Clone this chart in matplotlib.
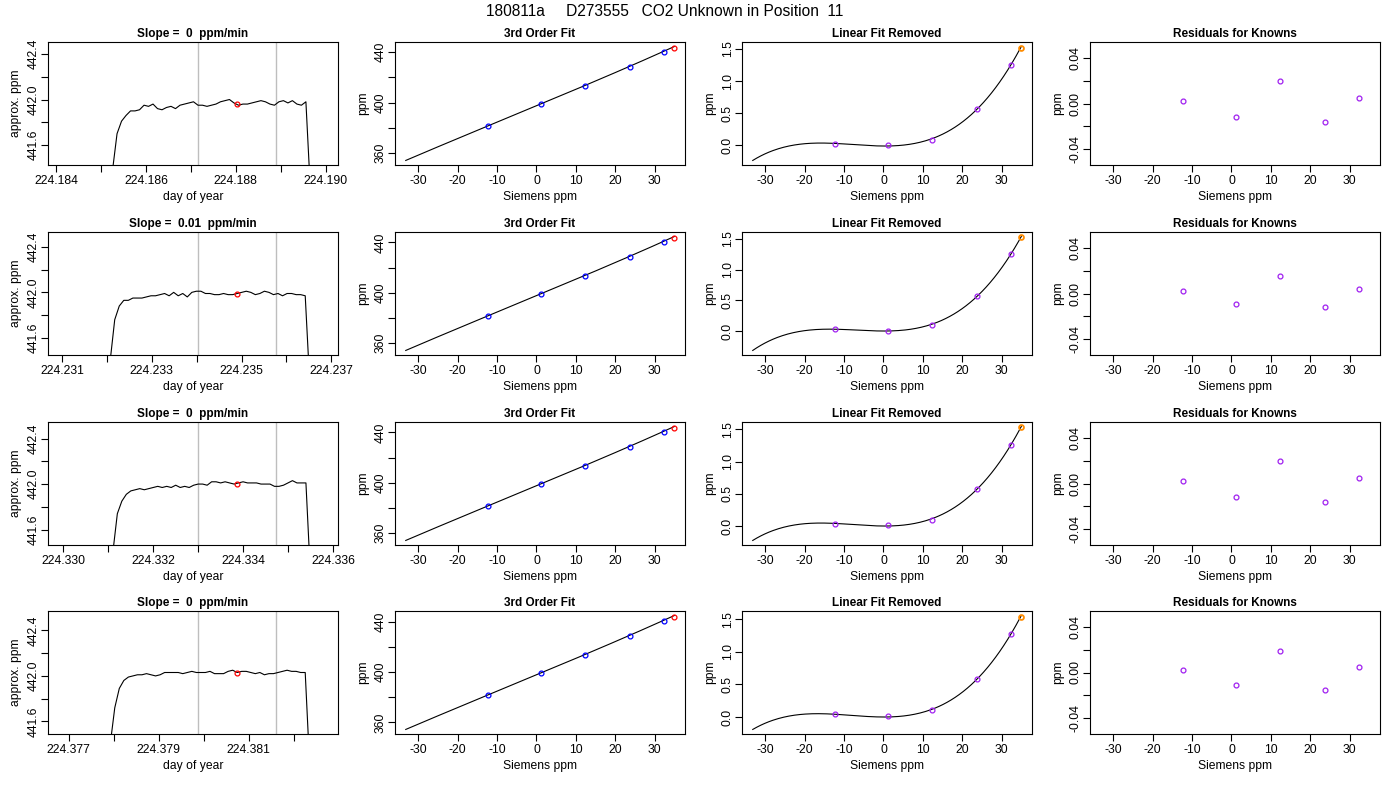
import numpy as np
import matplotlib
matplotlib.use('Agg')
import matplotlib.pyplot as plt

plt.rcParams['font.family'] = ['Liberation Sans', 'DejaVu Sans']
plt.rcParams['axes.unicode_minus'] = False

main_title = '180811a     D273555   CO2 Unknown in Position  11'
slopes = ['0', '0.01', '0', '0']

# analyser trace for each injection (day of year, approx. ppm)
trace_start = [224.185258, 224.232074, 224.331107, 224.377923]
trace_end = [224.18966, 224.236519, 224.335491, 224.382351]
trace_ppm = [
    [441.38, 441.70, 441.81, 441.86, 441.90, 441.90, 441.91, 441.95, 441.94, 441.96,
     441.92, 441.91, 441.93, 441.94, 441.92, 441.95, 441.96, 441.97, 441.98, 441.95,
     441.95, 441.94, 441.95, 441.96, 441.98, 441.99, 442.00, 441.97, 441.95, 441.96,
     441.96, 441.97, 441.98, 441.99, 441.98, 441.96, 441.95, 441.98, 441.99, 441.97,
     441.99, 441.96, 441.95, 441.98, 441.20],
    [441.40, 441.76, 441.88, 441.93, 441.93, 441.95, 441.95, 441.95, 441.96, 441.97,
     441.97, 441.98, 441.99, 441.97, 442.00, 441.97, 441.99, 441.96, 442.00, 442.01,
     442.01, 441.99, 441.99, 441.98, 441.98, 441.99, 441.98, 441.98, 441.99, 442.00,
     442.01, 442.00, 441.98, 441.99, 442.01, 442.00, 441.98, 441.99, 441.97, 441.99,
     441.99, 441.98, 441.98, 441.97, 441.20],
    [441.40, 441.74, 441.85, 441.91, 441.94, 441.95, 441.96, 441.95, 441.96, 441.97,
     441.98, 441.97, 441.98, 441.97, 441.99, 441.97, 441.98, 441.97, 441.99, 442.00,
     442.00, 441.99, 442.02, 442.02, 442.01, 442.02, 442.01, 442.00, 442.01, 442.02,
     442.01, 442.01, 442.01, 442.00, 442.00, 442.00, 441.98, 441.98, 441.99, 442.01,
     442.03, 442.01, 442.01, 442.01, 441.20],
    [441.40, 441.72, 441.89, 441.96, 441.99, 442.00, 442.01, 442.01, 442.02, 442.01,
     442.00, 442.01, 442.03, 442.03, 442.03, 442.03, 442.02, 442.03, 442.04, 442.03,
     442.03, 442.03, 442.04, 442.02, 442.02, 442.02, 442.04, 442.05, 442.03, 442.04,
     442.04, 442.03, 442.02, 442.03, 442.01, 442.02, 442.02, 442.03, 442.04, 442.05,
     442.04, 442.04, 442.03, 442.03, 441.20],
]
day_range = [(224.183822, 224.190274), (224.230689, 224.237148),
             (224.329668, 224.336103), (224.376542, 224.382978)]
avg_window = [(224.187166, 224.188905), (224.234037, 224.235778),
              (224.333004, 224.334738), (224.379878, 224.381613)]
unknown_day = [224.188017, 224.234904, 224.333867, 224.380742]
unknown_ppm = [441.965, 441.99, 442.005, 442.03]

# calibration against the known standards
siemens_known = [-12.4, 1.1, 12.3, 23.7, 32.4]
siemens_unknown = 35.0
siemens_span = (-33.2, 35.0)
fit_ppm = [
    [381.5, 398.9, 413.1, 428.0, 440.1],
    [381.6, 399.0, 413.2, 428.1, 440.2],
    [381.7, 399.1, 413.3, 428.2, 440.2],
    [381.9, 399.2, 413.4, 428.4, 440.3],
]
fit_unknown = [443.5, 443.6, 443.6, 443.7]
lin_removed = [
    [0.03, 0.00, 0.09, 0.57, 1.25],
    [0.03, 0.01, 0.10, 0.57, 1.25],
    [0.04, 0.01, 0.10, 0.58, 1.26],
    [0.04, 0.01, 0.10, 0.59, 1.27],
]
lin_unknown = [1.51, 1.52, 1.53, 1.54]
residuals = [
    [0.002, -0.012, 0.020, -0.016, 0.005],
    [0.002, -0.009, 0.015, -0.012, 0.004],
    [0.002, -0.012, 0.020, -0.016, 0.005],
    [0.002, -0.011, 0.019, -0.015, 0.005],
]

col_left = [48, 395, 742, 1090]
row_top = [42, 232, 422, 611]
W, H = 1400, 800
AW, AH = 290, 123
FS = 8.7


def make_axes(fig, row, col):
    ax = fig.add_axes([col_left[col] / W, 1 - (row_top[row] + AH) / H, AW / W, AH / H])
    for s in ax.spines.values():
        s.set_linewidth(0.8)
    ax.tick_params(length=5, width=0.8, labelsize=FS, top=False, right=False)
    ax.tick_params(axis='x', pad=2.5)
    ax.tick_params(axis='y', pad=1, labelrotation=90)
    return ax


def center_ylabels(ax):
    for lab in ax.get_yticklabels():
        lab.set_va('center')


def set_labels(ax, title, xlabel, ylabel):
    ax.set_title(title, fontsize=8.5, fontweight='bold', pad=3.6)
    ax.set_xlabel(xlabel, fontsize=FS)
    ax.set_ylabel(ylabel, fontsize=FS)
    ax.xaxis.set_label_coords(0.5, -26 / AH)
    ax.yaxis.set_label_coords(-26 / AW, 0.5)


def every_other(ax, ticks, fmt, axis='y'):
    labels = [fmt % t if i % 2 == 0 else '' for i, t in enumerate(ticks)]
    if axis == 'y':
        ax.set_yticks(ticks, labels)
        center_ylabels(ax)
    else:
        ax.set_xticks(ticks, labels)


def cubic_curve(i):
    # cubic through the linear-removed knowns
    xs = np.linspace(siemens_span[0], siemens_span[1], 200)
    coef = np.polyfit(siemens_known, lin_removed[i], 3)
    return xs, np.polyval(coef, xs)


def trace_panel(ax, i):
    y = np.array(trace_ppm[i])
    x = np.linspace(trace_start[i], trace_end[i], len(y))
    for d in avg_window[i]:
        ax.axvline(d, color='#bebebe', lw=1)
    ax.plot(x, y, color='black', lw=0.8)
    ax.plot(unknown_day[i], unknown_ppm[i], 'o', mfc='none', mec='red', ms=3.5, mew=0.9)
    ax.set_xlim(day_range[i])
    lo, hi = unknown_ppm[i] - 0.54, unknown_ppm[i] + 0.54
    ax.set_ylim(lo, hi)
    lo_k, hi_k = day_range[i]
    xt = np.arange(np.ceil(lo_k * 1000 - 1e-6), np.floor(hi_k * 1000 + 1e-6) + 1) / 1000
    every_other(ax, xt, '%.3f', axis='x')
    yt = np.arange(np.ceil(lo * 5), np.floor(hi * 5) + 1) / 5
    # labels only on 441.6 / 442.0 / 442.4
    labels = ['%.1f' % t if round(t * 5) % 2 == 0 else '' for t in yt]
    ax.set_yticks(yt, labels)
    center_ylabels(ax)
    set_labels(ax, 'Slope =  %s  ppm/min' % slopes[i], 'day of year', 'approx. ppm')


def fit_panel(ax, i):
    xs, cub = cubic_curve(i)
    lin = np.polyfit(siemens_known, fit_ppm[i], 1)
    ax.plot(xs, np.polyval(lin, xs) + cub, color='black', lw=0.8)
    ax.plot(siemens_known, fit_ppm[i], 'o', mfc='none', mec='blue', ms=3.5, mew=0.9)
    ax.plot(siemens_unknown, fit_unknown[i], 'o', mfc='none', mec='red', ms=3.5, mew=0.9)
    ax.margins(0.04)
    ax.set_xticks(range(-30, 31, 10))
    every_other(ax, [360, 380, 400, 420, 440], '%d')
    set_labels(ax, '3rd Order Fit', 'Siemens ppm', 'ppm')


def linear_panel(ax, i):
    xs, cub = cubic_curve(i)
    ax.plot(xs, cub, color='black', lw=0.8)
    ax.plot(siemens_known, lin_removed[i], 'o', mfc='none', mec='#a020f0', ms=3.5, mew=0.9)
    ax.plot(siemens_unknown, lin_unknown[i], 'o', mfc='none', mec='#ff8c00', ms=3.5, mew=1.3)
    ax.margins(0.04)
    ax.set_xticks(range(-30, 31, 10))
    ax.set_yticks([0.0, 0.5, 1.0, 1.5], ['0.0', '0.5', '1.0', '1.5'])
    center_ylabels(ax)
    set_labels(ax, 'Linear Fit Removed', 'Siemens ppm', 'ppm')


def resid_panel(ax, i):
    ax.plot(siemens_known, residuals[i], 'o', mfc='none', mec='#a020f0', ms=3.5, mew=0.9)
    pad = 0.04 * (siemens_span[1] - siemens_span[0])
    ax.set_xlim(siemens_span[0] - pad, siemens_span[1] + pad)
    ax.set_ylim(-0.054, 0.054)
    ax.set_xticks(range(-30, 31, 10))
    every_other(ax, [-0.04, -0.02, 0.0, 0.02, 0.04], '%.2f')
    set_labels(ax, 'Residuals for Knowns', 'Siemens ppm', 'ppm')


fig = plt.figure(figsize=(14, 8), dpi=100)
for r in range(4):
    trace_panel(make_axes(fig, r, 0), r)
    fit_panel(make_axes(fig, r, 1), r)
    linear_panel(make_axes(fig, r, 2), r)
    resid_panel(make_axes(fig, r, 3), r)

fig.text(665 / W, 1 - 11.5 / H, main_title, ha='center', va='center', fontsize=11.2)
fig.savefig('out.png', dpi=100)
